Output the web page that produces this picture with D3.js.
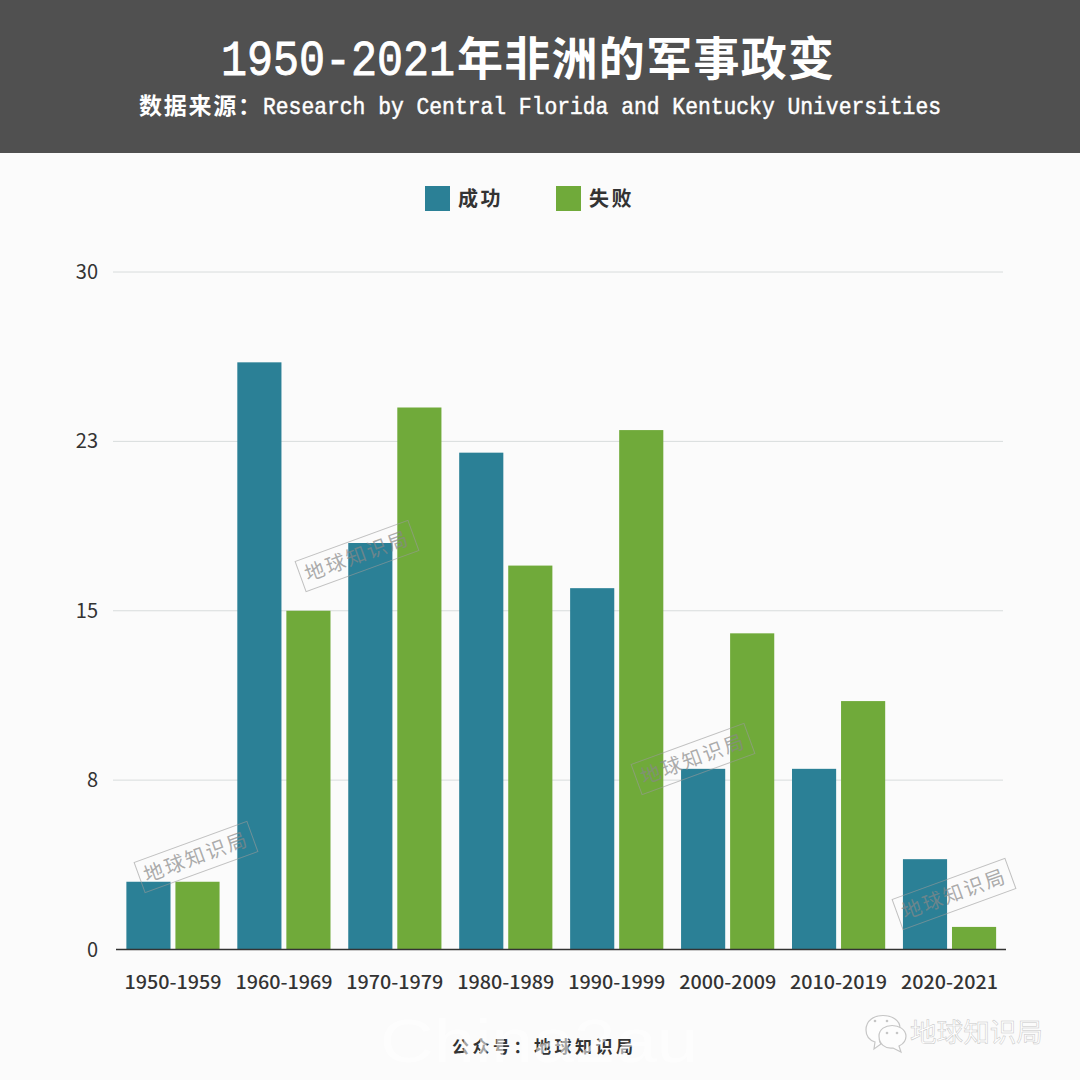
<!DOCTYPE html>
<html lang="zh">
<head>
<meta charset="UTF-8">
<title>1950-2021年非洲的军事政变</title>
<script src="https://cdnjs.cloudflare.com/ajax/libs/d3/7.8.5/d3.min.js"></script>
<style>
    html, body { margin: 0; padding: 0; background: #fbfbfb; }
    svg { display: block; }
    text { font-family: "Noto Sans CJK SC", sans-serif; }
    .mono { font-family: "Liberation Mono", monospace; }
</style>
</head>
<body>
<svg id="chart" width="1080" height="1080"></svg>
<script>
const decades = ["1950-1959", "1960-1969", "1970-1979", "1980-1989", "1990-1999", "2000-2009", "2010-2019", "2020-2021"];
const seriesNames = ["成功", "失败"];
const success = [3, 26, 18, 22, 16, 8, 8, 4];
const failure = [3, 15, 24, 17, 23, 14, 11, 1];
const tickValues = [0, 7.5, 15, 22.5, 30];
const tickLabels = ["0", "8", "15", "23", "30"];
const colors = ["#2b8096", "#70aa3a"];
const stamps = [[196, 857], [357, 556], [693, 759], [954, 894]];

const svg = d3.select("#chart");
svg.append("rect").attr("width", 1080).attr("height", 1080).attr("fill", "#fbfbfb");

// header, latin and cjk parts are squeezed separately
svg.append("rect").attr("width", 1080).attr("height", 153).attr("fill", "#505050");
svg.append("text").attr("class", "mono")
    .attr("transform", "translate(221,75) scale(0.867,1)")
    .attr("fill", "#fff").attr("stroke", "#fff").attr("stroke-width", 0.9).attr("font-size", 50)
    .text("1950-2021");
svg.append("text").attr("x", 457).attr("y", 75)
    .attr("fill", "#fff").attr("font-size", 46).attr("font-weight", "bold")
    .attr("textLength", 377).attr("lengthAdjust", "spacing")
    .text("年非洲的军事政变");
svg.append("text").attr("x", 139).attr("y", 114)
    .attr("fill", "#fff").attr("font-size", 23).attr("font-weight", "bold")
    .attr("textLength", 122).attr("lengthAdjust", "spacing")
    .text("数据来源：");
svg.append("text").attr("class", "mono").attr("x", 263).attr("y", 114)
    .attr("fill", "#fff").attr("stroke", "#fff").attr("stroke-width", 0.5).attr("font-size", 24)
    .attr("textLength", 678).attr("lengthAdjust", "spacingAndGlyphs")
    .text("Research by Central Florida and Kentucky Universities");

// scales
const x = d3.scaleBand().domain(decades).range([117.5, 1005]).paddingInner(0.16).paddingOuter(0.08);
const x1 = d3.scaleBand().domain(seriesNames).range([0, x.bandwidth()]).paddingInner(0.1);
const y = d3.scaleLinear().domain([0, 30]).range([949.5, 272]);

// gridlines + y labels
svg.append("g").selectAll("line").data(tickValues.slice(1)).join("line")
    .attr("x1", 113).attr("x2", 1003)
    .attr("y1", d => y(d)).attr("y2", d => y(d))
    .attr("stroke", "#d8dcdc").attr("stroke-width", 1);
svg.append("g").selectAll("text").data(tickValues).join("text")
    .attr("x", 98).attr("y", d => y(d) + 7).attr("text-anchor", "end")
    .attr("font-size", 20).attr("fill", "#333")
    .text((d, i) => tickLabels[i]);

// bars
const groups = svg.append("g").selectAll("g").data(decades).join("g")
    .attr("transform", d => `translate(${x(d)},0)`);
[success, failure].forEach((vals, s) => {
    groups.append("rect")
        .attr("x", x1(seriesNames[s]))
        .attr("width", x1.bandwidth())
        .attr("y", (d, i) => y(vals[i]))
        .attr("height", (d, i) => y(0) - y(vals[i]))
        .attr("fill", colors[s]);
});

// baseline
svg.append("line").attr("x1", 116).attr("x2", 1006).attr("y1", y(0)).attr("y2", y(0))
    .attr("stroke", "#333").attr("stroke-width", 1.5);

// x labels
svg.append("g").selectAll("text").data(decades).join("text")
    .attr("x", d => x(d) + x.bandwidth() / 2).attr("y", 989)
    .attr("text-anchor", "middle").attr("font-size", 18).attr("font-weight", 500).attr("fill", "#333")
    .attr("textLength", 97).attr("lengthAdjust", "spacingAndGlyphs")
    .text(d => d);

// legend
const legend = svg.append("g").selectAll("g").data(seriesNames).join("g")
    .attr("transform", (d, i) => `translate(${425 + i * 131},186)`);
legend.append("rect").attr("width", 25).attr("height", 25).attr("fill", (d, i) => colors[i]);
legend.append("text").attr("x", 33).attr("y", 20)
    .attr("font-size", 20).attr("font-weight", "bold").attr("fill", "#333")
    .attr("letter-spacing", 2.5).text(d => d);

// watermark stamps
const stamp = svg.append("g").selectAll("g").data(stamps).join("g")
    .attr("transform", d => `translate(${d[0]},${d[1]}) rotate(-20)`);
stamp.append("rect").attr("x", -60).attr("y", -16).attr("width", 120).attr("height", 32)
    .attr("fill", "none")
    .attr("stroke", "#999").attr("stroke-opacity", 0.6);
stamp.append("text").attr("text-anchor", "middle").attr("y", 7)
    .attr("font-size", 20).attr("letter-spacing", 2).attr("fill", "#888").attr("fill-opacity", 0.7)
    .text("地球知识局");

// footer, the pale latin mark sits on top of it like in the picture
svg.append("text").attr("x", 452).attr("y", 1053)
    .attr("font-size", 17).attr("font-weight", "bold").attr("fill", "#333")
    .attr("textLength", 181).text("公众号：地球知识局");
svg.append("text").attr("x", 380).attr("y", 1062)
    .style("font-family", "Liberation Sans")
    .attr("font-size", 62).attr("fill", "#fff").attr("fill-opacity", 0.55)
    .attr("textLength", 318).attr("lengthAdjust", "spacingAndGlyphs")
    .text("China2au");

// wechat mark
const we = svg.append("g").attr("fill", "#fdfdfd").attr("stroke", "#c6c6c6").attr("stroke-width", 1.2);
we.append("path").attr("d", "M866 1030 C866 1010 900 1012 900 1028 C885 1028 876 1038 881 1044 L874 1049 L875 1042 C869 1040 866 1035 866 1030 Z");
we.append("path").attr("d", "M879 1036 C879 1022 905 1022 906 1036 C906 1043 901 1045 899 1046 L901 1052 L893 1048 C885 1049 879 1044 879 1036 Z");
svg.append("g").attr("fill", "#c6c6c6").selectAll("circle")
    .data([[875, 1021], [887, 1021], [887, 1033], [897, 1033]]).join("circle")
    .attr("cx", d => d[0]).attr("cy", d => d[1]).attr("r", 1.3);
svg.append("text").attr("x", 910).attr("y", 1042)
    .attr("font-size", 26.6).attr("fill", "#fff")
    .attr("stroke", "#c6c6c6").attr("stroke-width", 0.5)
    .text("地球知识局");
</script>
</body>
</html>
